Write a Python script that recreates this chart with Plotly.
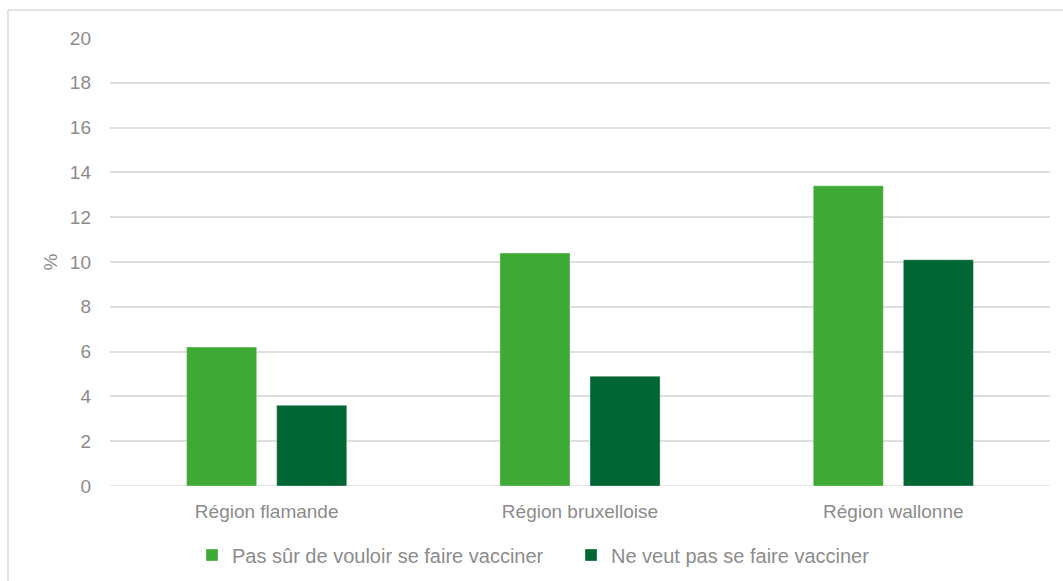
import plotly.graph_objects as go

# Data
regions = ["Région flamande", "Région bruxelloise", "Région wallonne"]
pas_sur = [6.2, 10.4, 13.4]
ne_veut_pas = [3.6, 4.9, 10.1]
series_names = ["Pas sûr de vouloir se faire vacciner", "Ne veut pas se faire vacciner"]
y_ticks = list(range(0, 21, 2))

LIGHT = "#3EA935"
DARK = "#006633"
TEXT = "#8C8C8C"
GRID = "#DEDEDE"
FONT = "Liberation Sans, Arial, sans-serif"

fig = go.Figure()
fig.add_trace(go.Bar(
    x=regions, y=pas_sur, name=series_names[0],
    marker=dict(color=LIGHT, line=dict(color="rgba(255,255,255,0.35)", width=1)),
))
fig.add_trace(go.Bar(
    x=regions, y=ne_veut_pas, name=series_names[1],
    marker=dict(color=DARK, line=dict(color="rgba(255,255,255,0.35)", width=1)),
))

W, H = 1063, 581
L, R, T, B = 110, 13, 38, 95
pw, ph = W - L - R, H - T - B

def px_x(x):
    return (x - L) / pw

def px_y(y):
    return (H - B - y) / ph

# Outer chart frame (left and top edges)
frame = dict(color="#D9D9D9", width=1.5)
fig.add_shape(type="line", xref="paper", yref="paper",
              x0=px_x(8), x1=px_x(8), y0=px_y(10), y1=px_y(600), line=frame)
fig.add_shape(type="line", xref="paper", yref="paper",
              x0=px_x(8), x1=px_x(1080), y0=px_y(10), y1=px_y(10), line=frame)

fig.update_layout(
    width=W, height=H,
    margin=dict(l=L, r=R, t=T, b=B, autoexpand=False),
    paper_bgcolor="white", plot_bgcolor="white",
    font=dict(family=FONT, size=19, color=TEXT),
    barmode="group", bargap=0.425, bargroupgap=0.222,
    showlegend=True,
    legend=dict(orientation="h", x=px_x(192), xanchor="left",
                y=px_y(555), yanchor="middle",
                font=dict(family=FONT, size=20, color=TEXT),
                itemwidth=30, entrywidth=334, bgcolor="rgba(0,0,0,0)"),
    xaxis=dict(showgrid=False, showline=False, ticks="", automargin=False,
               ticklabelstandoff=12,
               tickfont=dict(family=FONT, size=19, color=TEXT)),
    yaxis=dict(range=[0, 20], tickvals=y_ticks, showgrid=True, automargin=False,
               gridcolor=GRID, gridwidth=1.5, zeroline=False,
               showline=False, ticks="", ticklabelstandoff=18,
               tickfont=dict(family=FONT, size=19, color=TEXT),
               title=dict(text="%", standoff=7,
                          font=dict(family=FONT, size=19, color=TEXT))),
)
# Baseline at 0 drawn as a gridline
fig.add_shape(type="line", xref="paper", yref="y", x0=0, x1=1, y0=0, y1=0,
              line=dict(color=GRID, width=1.5), layer="below")

fig.write_html("out.html")
